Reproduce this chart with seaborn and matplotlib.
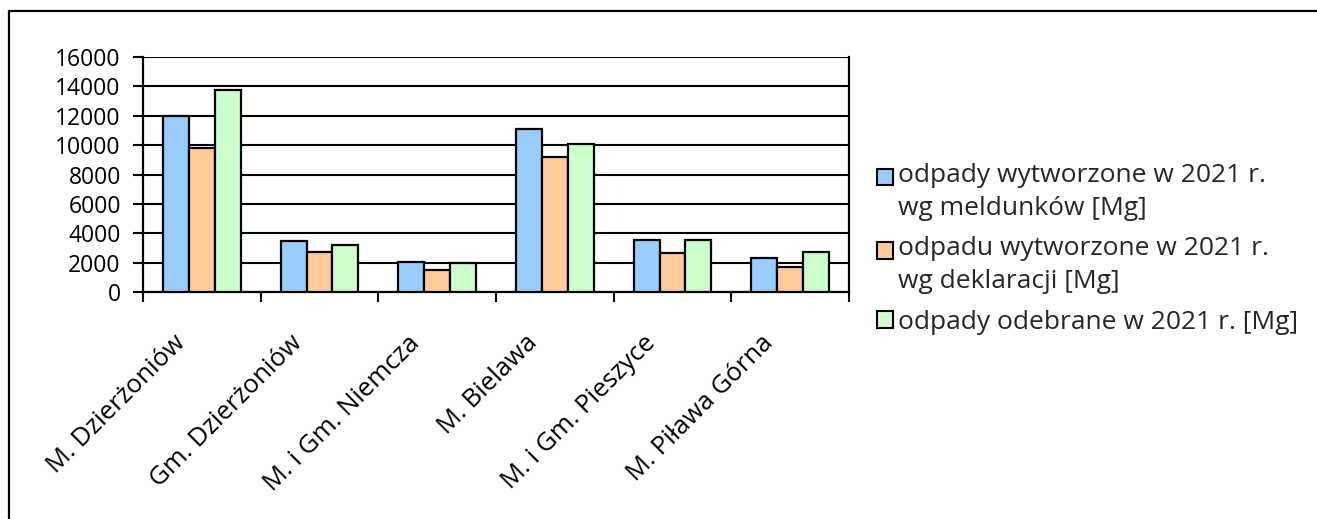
import matplotlib
matplotlib.use("Agg")
import matplotlib.pyplot as plt
import matplotlib.patches as mpatches
import matplotlib.transforms as mtransforms
from matplotlib.legend_handler import HandlerPatch
import seaborn as sns
import pandas as pd
import numpy as np

gminy = ["M. Dzierżoniów", "Gm. Dzierżoniów", "M. i Gm. Niemcza",
         "M. Bielawa", "M. i Gm. Pieszyce", "M. Piława Górna"]
serie = ["odpady wytworzone w 2021 r.\nwg meldunków [Mg]",
         "odpadu wytworzone w 2021 r.\nwg deklaracji [Mg]",
         "odpady odebrane w 2021 r. [Mg]"]
meldunki = [12000, 3450, 2010, 11110, 3520, 2310]
deklaracje = [9830, 2720, 1490, 9210, 2650, 1710]
odebrane = [13760, 3200, 1970, 10080, 3570, 2720]
kolory = ["#99CCFF", "#FFCC99", "#CCFFCC"]

df = pd.DataFrame({
    "gmina": gminy * 3,
    "seria": np.repeat(serie, len(gminy)),
    "wartosc": meldunki + deklaracje + odebrane,
})

sns.set_style("white")
plt.rcParams['font.family'] = ['Open Sans', 'DejaVu Sans']

FS_LEG = 19
LSP = 1.4

fig = plt.figure(figsize=(13.17, 5.19), dpi=100)
ax = fig.add_axes([143 / 1317, 1 - 292 / 519, (849 - 143) / 1317, (292 - 57) / 519])

sns.barplot(data=df, x="gmina", y="wartosc", hue="seria", palette=kolory,
            width=0.66, edgecolor="black", linewidth=1.6, saturation=1,
            ax=ax, zorder=3)

ax.set_ylim(0, 16000)
ax.set_xlim(-0.5, len(gminy) - 0.5)
ax.set_yticks(range(0, 16001, 2000))
ax.yaxis.grid(True, color="black", linewidth=1.5, zorder=0)
ax.set_axisbelow(True)
ax.set_xlabel("")
ax.set_ylabel("")

for s in ["left", "bottom", "right"]:
    ax.spines[s].set_color("black")
    ax.spines[s].set_linewidth(1.6)
ax.spines["top"].set_visible(False)

ax.tick_params(axis="y", direction="out", length=7, width=1.5, color="black",
               left=True, pad=9, labelsize=16.5, labelcolor="black")
ax.set_xticks(np.arange(-0.5, len(gminy)), minor=True)
ax.tick_params(axis="x", which="minor", direction="out", length=7, width=1.5,
               color="black", bottom=True)
ax.tick_params(axis="x", which="major", length=0, pad=36, labelsize=18.5,
               labelcolor="black")
przesun = mtransforms.ScaledTranslation(-0.16, -0.02, fig.dpi_scale_trans)
for lab in ax.get_xticklabels():
    lab.set_rotation(45)
    lab.set_ha("right")
    lab.set_va("baseline")
    lab.set_rotation_mode("anchor")
    lab.set_transform(lab.get_transform() + przesun)


# kwadrat legendy przy pierwszej linii opisu
def kwadrat(legend, orig_handle, xdescent, ydescent, width, height, fontsize):
    n = orig_handle.get_label().count("\n")
    dy = n * 0.5 * LSP * 0.81 * fontsize
    return mpatches.Rectangle((-xdescent, -ydescent + dy), width, height)


leg = ax.legend(loc="upper left", bbox_to_anchor=(877 / 1317, 1 - 163 / 519),
                bbox_transform=fig.transFigure, frameon=False,
                fontsize=FS_LEG, handlelength=0.6, handleheight=0.6,
                handletextpad=0.2, labelspacing=0.6, borderaxespad=0,
                borderpad=0, handler_map={mpatches.Rectangle: HandlerPatch(patch_func=kwadrat)})
for h in leg.legend_handles:
    h.set_edgecolor("black")
    h.set_linewidth(1.5)
for t in leg.get_texts():
    t.set_linespacing(LSP)

fig.patches.append(mpatches.Rectangle((9 / 1317, -0.1), 1.2, 1.1 - 11 / 519,
                                      transform=fig.transFigure, fill=False,
                                      edgecolor="black", linewidth=1.6))

fig.savefig("out.png", dpi=100, facecolor="white")
